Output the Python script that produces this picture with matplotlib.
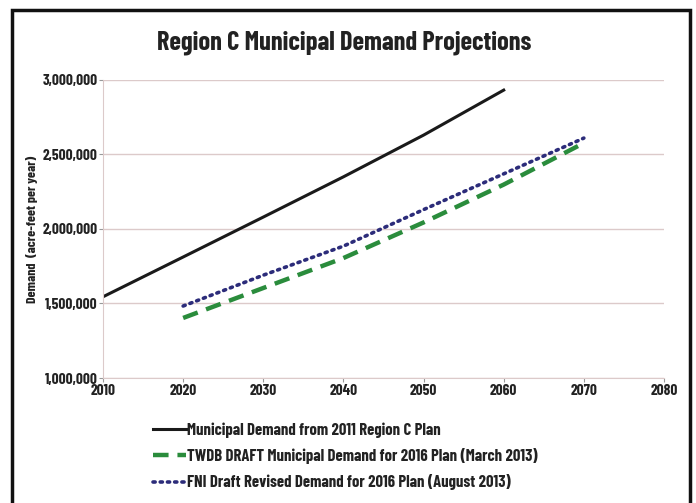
import matplotlib.pyplot as plt
from matplotlib.patches import Rectangle
from matplotlib.ticker import FuncFormatter

# data
years_2011 = [2010, 2020, 2030, 2040, 2050, 2060]
plan_2011 = [1545000, 1812000, 2080000, 2350000, 2630000, 2932000]

years_2016 = [2020, 2030, 2040, 2050, 2060, 2070]
twdb_draft = [1403000, 1604000, 1805000, 2044000, 2298000, 2577000]
fni_revised = [1483000, 1690000, 1885000, 2130000, 2370000, 2610000]

labels = ['Municipal Demand from 2011 Region C Plan',
          'TWDB DRAFT Municipal Demand for 2016 Plan (March 2013)',
          'FNI Draft Revised Demand for 2016 Plan (August 2013)']

font = ['Barlow Condensed', 'Roboto Condensed', 'DejaVu Sans']
grid_col = '#dccaca'
txt_col = '#222222'

fig = plt.figure(figsize=(6.96, 5.03), dpi=100)
ax = fig.add_axes([0.148, 0.2485, 0.806, 0.5925])

ax.plot(years_2011, plan_2011, color='#1a1a1a', lw=2.2, label=labels[0])
ax.plot(years_2016, twdb_draft, color='#2a8c3c', lw=3.2, ls=(0, (3.5, 2)), label=labels[1])
ax.plot(years_2016, fni_revised, color='#2c2c7a', lw=2.6, ls=(0, (0.6, 1.4)),
        dash_capstyle='round', label=labels[2])

ax.set_xlim(2010, 2080)
ax.set_ylim(1000000, 3000000)
ax.set_xticks(range(2010, 2081, 10))
ax.set_yticks(range(1000000, 3000001, 500000))
ax.yaxis.set_major_formatter(FuncFormatter(lambda v, p: f'{int(v):,}'))
ax.grid(axis='y', color=grid_col, lw=1)
ax.set_axisbelow(True)
for s in ['top', 'right']:
    ax.spines[s].set_visible(False)
for s in ['left', 'bottom']:
    ax.spines[s].set_color(grid_col)
ax.tick_params(axis='both', color='#999999', length=3, pad=1)
for t in ax.get_xticklabels() + ax.get_yticklabels():
    t.set_fontfamily(font)
    t.set_fontweight('bold')
    t.set_fontsize(11)
    t.set_color(txt_col)

ax.set_ylabel('Demand  (acre-feet per year)', fontfamily=font, fontweight='bold',
              fontsize=10, color=txt_col, labelpad=3)

fig.text(0.495, 0.915, 'Region C Municipal Demand Projections', ha='center', va='center',
         fontfamily=font, fontweight='bold', fontsize=19, color=txt_col)

leg = ax.legend(loc='upper left', bbox_to_anchor=(0.062, -0.098), frameon=False,
                handlelength=2.0, handletextpad=0.05, labelspacing=0.62,
                prop={'family': font, 'weight': 'bold', 'size': 12})
for t in leg.get_texts():
    t.set_color(txt_col)

# outer frame of the figure box
fig.patches.append(Rectangle((12 / 696, -0.05), 678 / 696, 1.05 - 10 / 503,
                             transform=fig.transFigure, fill=False,
                             edgecolor='#111111', lw=2.5))

fig.savefig('out.png', dpi=100)
